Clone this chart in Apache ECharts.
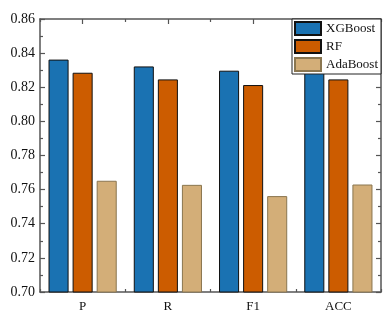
<!DOCTYPE html>
<html><head><meta charset="utf-8">
<script src="https://cdn.jsdelivr.net/npm/echarts@6/dist/echarts.min.js"></script>
<style>html,body{margin:0;padding:0;background:#fff}#c{width:391px;height:317px}</style>
</head><body><div id="c"></div>
<script>
const categories = ['P', 'R', 'F1', 'ACC'];
const xgboost = [0.8362, 0.8322, 0.8297, 0.8365];
const rf = [0.8285, 0.8246, 0.8213, 0.8246];
const adaboost = [0.7652, 0.7628, 0.7562, 0.7630];
const yTicks = [0.70, 0.72, 0.74, 0.76, 0.78, 0.80, 0.82, 0.84, 0.86];

const font = 'Liberation Serif';
const axisColor = '#555';
const chart = echarts.init(document.getElementById('c'));
function xAx(pos, align, len, showLine, showLabel) {
  return {
    type: 'category', data: categories, position: pos,
    axisLine: {show: showLine, lineStyle: {color: axisColor, width: 1.5}},
    axisTick: {show: true, inside: true, alignWithLabel: align, length: len, lineStyle: {color: axisColor, width: 1.2}},
    axisLabel: {show: showLabel, fontFamily: font, fontSize: 13, color: '#111', margin: 8},
    splitLine: {show: false}
  };
}
function yAx(pos, showLabel) {
  return {
    type: 'value', min: yTicks[0], max: yTicks[yTicks.length - 1], interval: 0.02, position: pos,
    axisLine: {show: true, lineStyle: {color: axisColor, width: 1.5}},
    axisTick: {show: true, inside: true, length: 5, lineStyle: {color: axisColor, width: 1.2}},
    minorTick: {show: true, splitNumber: 2, length: 3, lineStyle: {color: axisColor, width: 1.2}},
    axisLabel: {show: showLabel, fontFamily: font, fontSize: 14, color: '#111', margin: 5,
      formatter: v => v.toFixed(2)},
    splitLine: {show: false}
  };
}
const mk = (name, data, color, border) => ({
  name, type: 'bar', data, xAxisIndex: 0, yAxisIndex: 0,
  barGap: '20%', barCategoryGap: '20%',
  itemStyle: {color, borderColor: border, borderWidth: 1}
});
chart.setOption({
  animation: false,
  grid: {left: 40, right: 10, top: 19, bottom: 25},
  legend: {
    orient: 'vertical', right: 10, top: 19, itemWidth: 26, itemHeight: 13, itemGap: 3, icon: 'rect',
    padding: [2, 3, 2, 2], backgroundColor: '#fff', borderColor: '#222', borderWidth: 1,
    textStyle: {fontFamily: font, fontSize: 13, color: '#111'}, z: 10,
    data: ['XGBoost', 'RF', 'AdaBoost']
  },
  xAxis: [
    xAx('bottom', true, 5, true, true),
    xAx('bottom', false, 3, false, false),
    xAx('top', true, 5, true, false),
    xAx('top', false, 3, false, false)
  ],
  yAxis: [yAx('left', true), yAx('right', false)],
  series: [
    mk('XGBoost', xgboost, '#1a72b2', '#111'),
    mk('RF', rf, '#cc5c00', '#111'),
    mk('AdaBoost', adaboost, '#d3ae78', '#8a7650')
  ]
});
</script></body></html>
